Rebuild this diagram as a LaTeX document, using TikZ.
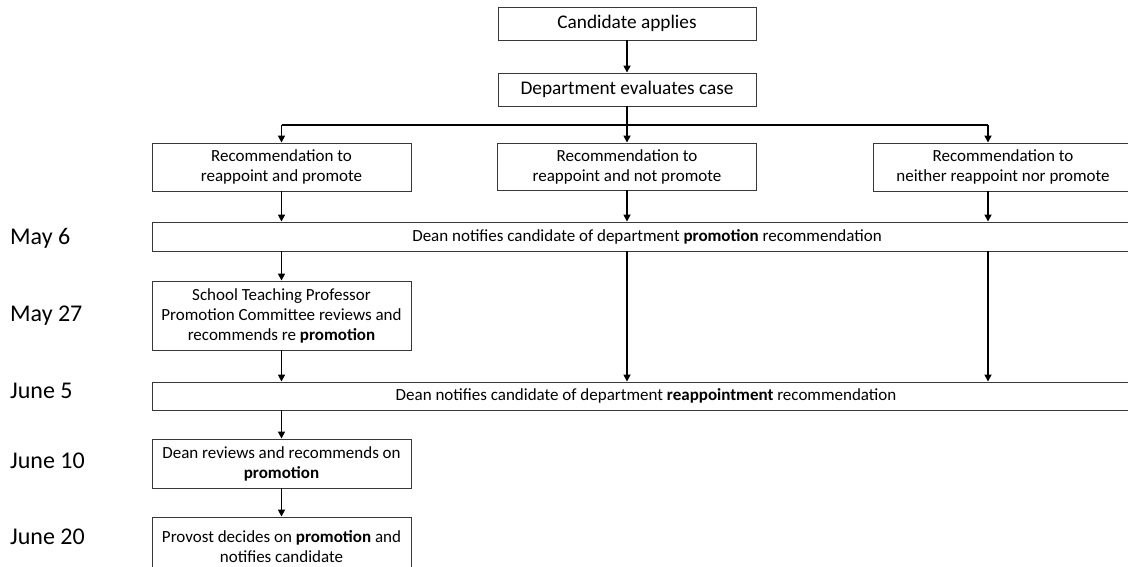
\documentclass[tikz,border=0pt]{standalone}
\usepackage{fontspec}
\setmainfont{Carlito}
\usetikzlibrary{arrows.meta}
\tikzset{
  box/.style={draw=black!78, line width=0.9pt, fill=white, align=center, inner sep=0pt, text=black},
  big/.style={font=\fontsize{19.3}{22}\selectfont},
  small/.style={font=\fontsize{17}{20}\selectfont},
  datelbl/.style={anchor=west, font=\fontsize{24}{28}\selectfont, inner sep=0pt},
  arr/.style={line width=1.6pt, -{Triangle[length=7pt,width=7pt]}},
  ln/.style={line width=1.6pt}
}
\begin{document}
\begin{tikzpicture}[x=1pt,y=-1pt]
\useasboundingbox (0,0) rectangle (1128,567);
\begin{scope}
\clip (0,0) rectangle (1128,567);
% top boxes
\node[box,big,minimum width=258pt,minimum height=33pt] (cand) at (627,23.5) {Candidate applies};
\node[box,big,minimum width=258pt,minimum height=33pt] (dept) at (627,89.5) {Department evaluates case};
% recommendations
\node[box,small,minimum width=259pt,minimum height=48pt] (r1) at (281.5,167) {Recommendation to\\reappoint and promote};
\node[box,small,minimum width=259pt,minimum height=47pt] (r2) at (627,166.5) {Recommendation to\\reappoint and not promote};
\node[box,small,minimum width=260pt,minimum height=48pt] (r3) at (1003,167) {Recommendation to\\neither reappoint nor promote};
% dean notifications
\node[box,small,minimum width=990pt,minimum height=29pt] (dn1) at (647,236.5) {Dean notifies candidate of department \textbf{promotion} recommendation};
\node[box,small,minimum width=259pt,minimum height=69pt] (sc) at (281.5,315.5) {School Teaching Professor\\Promotion Committee reviews and\\recommends re \textbf{promotion}};
\node[box,small,minimum width=988pt,minimum height=28pt] (dn2) at (646,396) {Dean notifies candidate of department \textbf{reappointment} recommendation};
\node[box,small,minimum width=259pt,minimum height=49pt] (dr) at (281.5,463.5) {Dean reviews and recommends on\\\textbf{promotion}};
\node[box,small,minimum width=259pt,minimum height=59pt] (pv) at (281.5,546.5) {Provost decides on \textbf{promotion} and\\notifies candidate};
% date labels
\node[datelbl] (d1) at (10,238) {May 6};
\node[datelbl] (d2) at (10,316) {May 27};
\node[datelbl] (d3) at (10,391) {June 5};
\node[datelbl] (d4) at (10,461) {June 10};
\node[datelbl] (d5) at (10,537) {June 20};
% connectors
\coordinate (c1) at (281.5,125);
\coordinate (c3) at (988,125);
\draw[arr] (cand.south) -- (dept.north);
\draw[ln] (c1) -- (c3);
\draw[arr] (dept.south) -- (r2.north);
\draw[arr] (c1) -- (r1.north);
\draw[arr] (c3) -- (r3.north -| c3);
\draw[arr] (r1.south) -- (r1.south |- dn1.north);
\draw[arr] (r2.south) -- (r2.south |- dn1.north);
\draw[arr] (r3.south -| c3) -- (dn1.north -| c3);
\draw[arr] (dn1.south -| r1.south) -- (sc.north);
\draw[arr] (dn1.south -| r2.south) -- (dn2.north -| r2.south);
\draw[arr] (dn1.south -| c3) -- (dn2.north -| c3);
\draw[arr] (sc.south) -- (sc.south |- dn2.north);
\draw[arr] (dn2.south -| sc.south) -- (dr.north);
\draw[arr] (dr.south) -- (pv.north);
\end{scope}
\end{tikzpicture}
\end{document}
